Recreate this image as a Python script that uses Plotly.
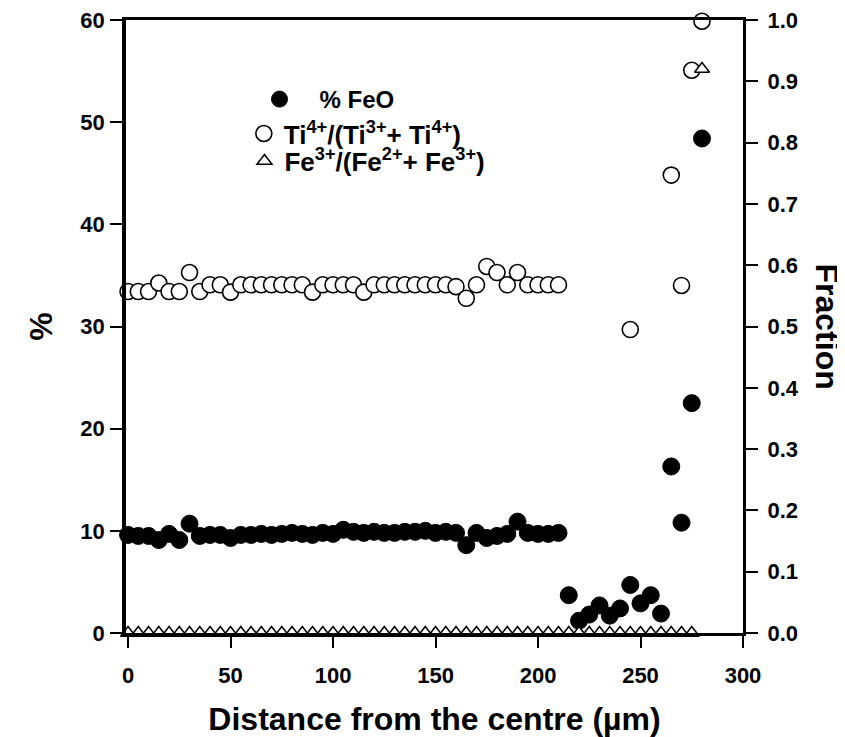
import plotly.graph_objects as go

# ---------------- data ----------------
feo_x = [0, 5, 10, 15, 20, 25, 30, 35, 40, 45, 50, 55, 60, 65, 70, 75, 80, 85, 90, 95,
         100, 105, 110, 115, 120, 125, 130, 135, 140, 145, 150, 155, 160, 165, 170, 175,
         180, 185, 190, 195, 200, 205, 210, 215, 220, 225, 230, 235, 240, 245, 250, 255,
         260, 265, 270, 275, 280]
feo_pct = [9.6, 9.5, 9.5, 9.1, 9.7, 9.1, 10.7, 9.5, 9.6, 9.6, 9.3, 9.6, 9.6, 9.7, 9.6, 9.7,
           9.8, 9.7, 9.6, 9.8, 9.7, 10.1, 9.9, 9.8, 9.9, 9.8, 9.8, 9.9, 9.9, 10.0, 9.8, 9.9,
           9.8, 8.6, 9.8, 9.3, 9.5, 9.7, 10.9, 9.8, 9.7, 9.7, 9.8, 3.7, 1.2, 1.8, 2.7, 1.7,
           2.4, 4.7, 2.9, 3.7, 1.9, 16.3, 10.8, 22.5, 48.4]

ti_x = [0, 5, 10, 15, 20, 25, 30, 35, 40, 45, 50, 55, 60, 65, 70, 75, 80, 85, 90, 95,
        100, 105, 110, 115, 120, 125, 130, 135, 140, 145, 150, 155, 160, 165, 170, 175,
        180, 185, 190, 195, 200, 205, 210, 245, 265, 270, 275, 280]
ti_frac = [0.557, 0.557, 0.557, 0.571, 0.557, 0.557, 0.588, 0.557, 0.568, 0.568, 0.556,
           0.568, 0.568, 0.568, 0.568, 0.568, 0.568, 0.568, 0.556, 0.568, 0.568, 0.568,
           0.568, 0.556, 0.568, 0.568, 0.568, 0.568, 0.568, 0.568, 0.568, 0.568, 0.565,
           0.546, 0.568, 0.598, 0.588, 0.568, 0.588, 0.568, 0.568, 0.568, 0.568,
           0.495, 0.747, 0.567, 0.918, 0.998]

fe_x = [0, 5, 10, 15, 20, 25, 30, 35, 40, 45, 50, 55, 60, 65, 70, 75, 80, 85, 90, 95,
        100, 105, 110, 115, 120, 125, 130, 135, 140, 145, 150, 155, 160, 165, 170, 175,
        180, 185, 190, 195, 200, 205, 210, 215, 220, 225, 230, 235, 240, 245, 250, 255,
        260, 265, 270, 275, 280]
fe_frac = [0.0, 0.0, 0.0, 0.0, 0.0, 0.0, 0.0, 0.0, 0.0, 0.0, 0.0, 0.0, 0.0, 0.0, 0.0, 0.0,
           0.0, 0.0, 0.0, 0.0, 0.0, 0.0, 0.0, 0.0, 0.0, 0.0, 0.0, 0.0, 0.0, 0.0, 0.0, 0.0,
           0.0, 0.0, 0.0, 0.0, 0.0, 0.0, 0.0, 0.0, 0.0, 0.0, 0.0, 0.0, 0.0, 0.0, 0.0, 0.0,
           0.0, 0.0, 0.0, 0.0, 0.0, 0.0, 0.0, 0.0, 0.92]

x_ticks = [0, 50, 100, 150, 200, 250, 300]
y_ticks = [0, 10, 20, 30, 40, 50, 60]
y2_ticks = [0.0, 0.1, 0.2, 0.3, 0.4, 0.5, 0.6, 0.7, 0.8, 0.9, 1.0]

FONT = "Liberation Sans, Arial, Helvetica, sans-serif"

fig = go.Figure()

fig.add_trace(go.Scatter(
    x=ti_x, y=ti_frac, yaxis="y2", mode="markers", cliponaxis=False,
    name="Ti<sup>4+</sup>/(Ti<sup>3+</sup>+ Ti<sup>4+</sup>)", legend="legend2",
    marker=dict(symbol="circle", size=16, color="white",
                line=dict(color="black", width=1.6)),
))
fig.add_trace(go.Scatter(
    x=fe_x, y=fe_frac, yaxis="y2", mode="markers", cliponaxis=False,
    name="Fe<sup>3+</sup>/(Fe<sup>2+</sup>+ Fe<sup>3+</sup>)", legend="legend3",
    marker=dict(symbol="triangle-up", size=13, color="white",
                line=dict(color="black", width=1.5)),
))
fig.add_trace(go.Scatter(
    x=feo_x, y=feo_pct, mode="markers", cliponaxis=False,
    name="&nbsp;&nbsp;&nbsp;% FeO", legend="legend",
    marker=dict(symbol="circle", size=17, color="black",
                line=dict(color="black", width=1)),
))

axis_font = dict(family=FONT, size=22, color="black", weight="bold")
title_font = dict(family=FONT, size=32, color="black", weight="bold")
legend_font = dict(family=FONT, size=24, color="black", weight="bold")
legend_font2 = dict(family=FONT, size=26, color="black", weight="bold")

# the page body adds an 8px offset; figure size/margins compensate for it
fig.update_layout(
    width=837, height=729,
    margin=dict(l=118, r=102, t=12, b=104, autoexpand=False),
    paper_bgcolor="white", plot_bgcolor="white",
    showlegend=True,
    font=dict(family=FONT, color="black"),
    xaxis=dict(
        range=[-1, 300], tickvals=x_ticks, ticks="outside", ticklen=12, tickwidth=1.5,
        tickcolor="black", showline=True, linewidth=3, linecolor="black", mirror=True,
        showgrid=False, zeroline=False, tickfont=axis_font, ticklabelstandoff=9,
        automargin=False, ticklabeloverflow="allow",
        title=dict(text="Distance from the centre (µm)", font=title_font, standoff=22),
    ),
    yaxis=dict(
        range=[0, 60], tickvals=y_ticks, ticks="outside", ticklen=12, tickwidth=1.5,
        tickcolor="black", showline=True, linewidth=3.5, linecolor="black",
        showgrid=False, zeroline=False, tickfont=axis_font, ticklabelstandoff=1,
        automargin=False, ticklabeloverflow="allow",
        title=dict(text="%", font=title_font, standoff=19),
    ),
    yaxis2=dict(
        range=[0, 1], tickvals=y2_ticks, tickformat=".1f", overlaying="y", side="right",
        ticks="outside", ticklen=12, tickwidth=1.5, tickcolor="black",
        showline=True, linewidth=3, linecolor="black", showgrid=False, zeroline=False,
        tickfont=axis_font, ticklabelstandoff=5, automargin=False,
        ticklabeloverflow="allow",
    ),
    legend=dict(x=0.2164, y=0.907, xanchor="left", yanchor="top",
                bgcolor="rgba(0,0,0,0)", borderwidth=0, font=legend_font),
    legend2=dict(x=0.191, y=0.853, xanchor="left", yanchor="top",
                 bgcolor="rgba(0,0,0,0)", borderwidth=0, font=legend_font2),
    legend3=dict(x=0.192, y=0.808, xanchor="left", yanchor="top",
                 bgcolor="rgba(0,0,0,0)", borderwidth=0, font=legend_font2),
    annotations=[dict(
        text="Fraction", textangle=90, xref="paper", yref="paper",
        x=1.0, y=0.5, xanchor="center", yanchor="middle", xshift=84,
        showarrow=False, font=title_font,
    )],
)

fig.write_html("out.html")
